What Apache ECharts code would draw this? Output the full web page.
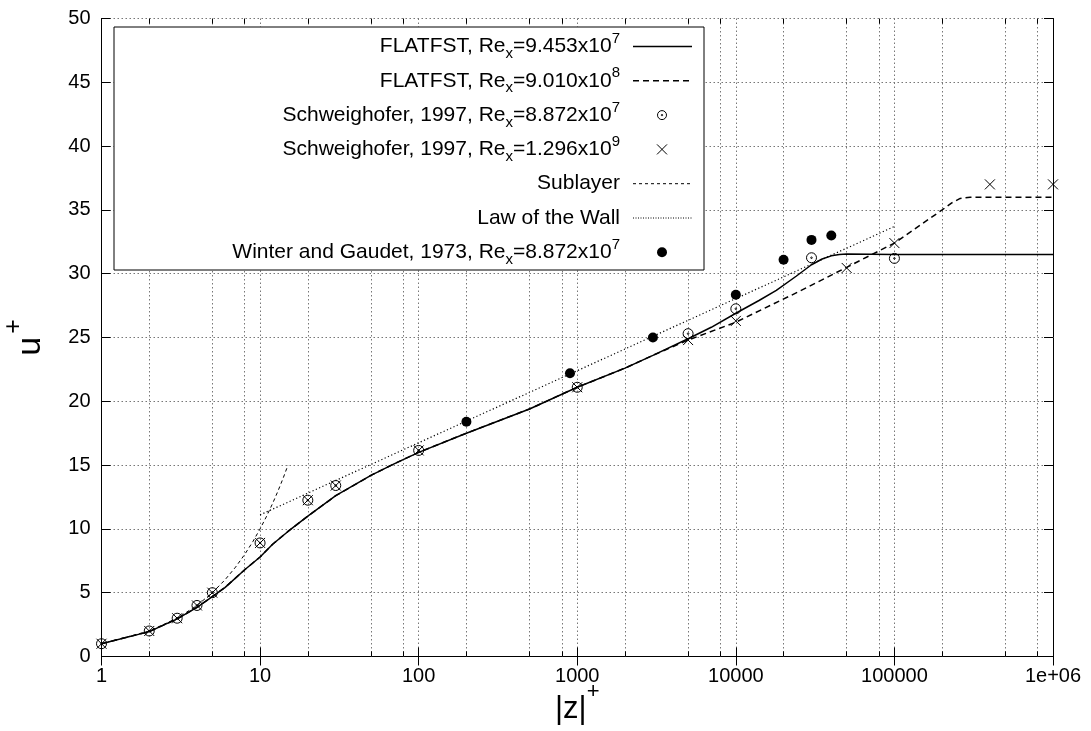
<!DOCTYPE html>
<html><head><meta charset="utf-8">
<script src="https://cdn.jsdelivr.net/npm/echarts@6/dist/echarts.min.js"></script>
<style>html,body{margin:0;padding:0;background:#fff}#c{width:1091px;height:731px}</style>
</head><body><div id="c"></div>
<script>
// FLATFST, Re_x = 9.453e7 (solid)
const flatA_z = [1, 2, 3, 4, 5, 6, 8, 10, 12, 15, 20, 30, 50, 70, 100, 200, 500, 1000, 2000, 3000, 5000, 7000, 10000, 14000, 18000, 24000, 30000, 35000, 40000, 45000, 50000, 100000, 1000000];
const flatA_u = [1.0, 1.95, 2.95, 3.85, 4.7, 5.4, 6.8, 7.8, 8.8, 9.8, 11.0, 12.6, 14.2, 15.1, 16.0, 17.5, 19.4, 21.1, 22.6, 23.6, 24.9, 25.8, 26.9, 27.9, 28.7, 29.8, 30.7, 31.15, 31.4, 31.5, 31.55, 31.5, 31.5];
// FLATFST, Re_x = 9.010e8 (dashed)
const flatB_z = [1, 2, 3, 4, 5, 6, 8, 10, 12, 15, 20, 30, 50, 70, 100, 200, 500, 1000, 2000, 3000, 5000, 10000, 25000, 50000, 100000, 200000, 230000, 260000, 300000, 1000000];
const flatB_u = [1.0, 1.95, 2.95, 3.85, 4.7, 5.4, 6.8, 7.8, 8.8, 9.8, 11.0, 12.6, 14.2, 15.1, 16.0, 17.5, 19.4, 21.1, 22.6, 23.6, 24.8, 26.2, 28.6, 30.5, 32.4, 35.0, 35.55, 35.9, 36.0, 36.0];
// Schweighofer 1997, Re_x = 8.872e7 (circles)
const schwA_z = [1, 2, 3, 4, 5, 10, 20, 30, 100, 1000, 5000, 10000, 30000, 100000];
const schwA_u = [1, 2, 3, 4, 5, 8.9, 12.25, 13.4, 16.15, 21.1, 25.3, 27.25, 31.25, 31.2];
// Schweighofer 1997, Re_x = 1.296e9 (crosses)
const schwB_z = [1, 2, 3, 4, 5, 10, 20, 30, 100, 1000, 5000, 10000, 50000, 100000, 400000, 1000000];
const schwB_u = [1, 2, 3, 4, 5, 8.9, 12.25, 13.4, 16.15, 21.1, 24.8, 26.3, 30.45, 32.4, 37.0, 37.0];
// Sublayer
const sub_z = [1, 2, 3, 4, 5, 6, 7, 8, 9, 10, 11, 12, 13, 14, 15];
const sub_u = [1, 2, 3, 4, 5, 6, 7, 8, 9, 10, 11, 12, 13, 14, 15];
// Law of the Wall
const law_z = [10, 100000];
const law_u = [11.1, 33.7];
// Winter and Gaudet 1973
const wg_z = [200, 900, 3000, 10000, 20000, 30000, 40000];
const wg_u = [18.4, 22.2, 25.0, 28.35, 31.1, 32.65, 33.0];
// minor tick positions on x
const minorTicks = [2, 5, 8, 20, 50, 80, 200, 500, 800, 2000, 5000, 8000, 20000, 50000, 80000, 200000, 500000, 800000];
// legend labels (rich text)
const legendLabels = [
  'FLATFST, Re{sb|x}=9.453x10{sp|7}',
  'FLATFST, Re{sb|x}=9.010x10{sp|8}',
  'Schweighofer, 1997, Re{sb|x}=8.872x10{sp|7}',
  'Schweighofer, 1997, Re{sb|x}=1.296x10{sp|9}',
  'Sublayer',
  'Law of the Wall',
  'Winter and Gaudet, 1973, Re{sb|x}=8.872x10{sp|7}'
];

const zip = (a, b) => a.map((v, i) => [v, b[i]]);
const FONT = 'Liberation Sans, Arial, Helvetica, sans-serif';
const circleDot = 'path://M10,1A9,9,0,1,1,10,19A9,9,0,1,1,10,1ZM10,8.6A1.4,1.4,0,1,1,10,11.4A1.4,1.4,0,1,1,10,8.6Z';
const cross = 'path://M0,0L10,10M10,0L0,10';
const gridLine = {color: '#777', width: 1, type: [1.5, 2.5]};

const chart = echarts.init(document.getElementById('c'), null, {renderer: 'canvas'});

const minorGridData = minorTicks.map(v => ({xAxis: v}));
const minorTickData = [];
minorTicks.forEach(v => {
  minorTickData.push([{coord: [v, 0]}, {coord: [v, 0.4]}]);
  minorTickData.push([{coord: [v, 50]}, {coord: [v, 49.6]}]);
});

// legend graphics
const LX = 114, LY = 27, LW = 590, LH = 243;
const rowY = i => 46.5 + 34.3 * i;
const textRight = 620, s1 = 633, s2 = 692, sc = 662;
const g = [];
g.push({type: 'rect', shape: {x: LX, y: LY, width: LW, height: LH}, style: {fill: '#fff', stroke: '#000', lineWidth: 1}, z: 100});
legendLabels.forEach((t, i) => {
  g.push({type: 'text', x: textRight, y: rowY(i), z: 101,
    style: {text: t, fill: '#000', font: '21px ' + FONT, fontSize: 21, fontFamily: FONT,
      align: 'right', verticalAlign: 'middle', textAlign: 'right', textVerticalAlign: 'middle', lineHeight: 30,
      rich: {
        sb: {fontSize: 15, fontFamily: FONT, lineHeight: 15, verticalAlign: 'bottom', fill: '#000'},
        sp: {fontSize: 15, fontFamily: FONT, lineHeight: 15, verticalAlign: 'top', fill: '#000'}
      }}});
});
g.push({type: 'line', z: 101, shape: {x1: s1, y1: rowY(0), x2: s2, y2: rowY(0)}, style: {stroke: '#000', lineWidth: 1.5}});
g.push({type: 'line', z: 101, shape: {x1: s1, y1: rowY(1), x2: s2, y2: rowY(1)}, style: {stroke: '#000', lineWidth: 1.5, lineDash: [6, 4]}});
g.push({type: 'circle', z: 101, shape: {cx: sc, cy: rowY(2), r: 4.5}, style: {fill: 'none', stroke: '#000', lineWidth: 1}});
g.push({type: 'circle', z: 101, shape: {cx: sc, cy: rowY(2), r: 0.8}, style: {fill: '#000', stroke: '#000', lineWidth: 0.5}});
g.push({type: 'line', z: 101, shape: {x1: sc - 5, y1: rowY(3) - 5, x2: sc + 5, y2: rowY(3) + 5}, style: {stroke: '#000', lineWidth: 1}});
g.push({type: 'line', z: 101, shape: {x1: sc - 5, y1: rowY(3) + 5, x2: sc + 5, y2: rowY(3) - 5}, style: {stroke: '#000', lineWidth: 1}});
g.push({type: 'line', z: 101, shape: {x1: s1, y1: rowY(4), x2: s2, y2: rowY(4)}, style: {stroke: '#000', lineWidth: 1, lineDash: [3, 3]}});
g.push({type: 'line', z: 101, shape: {x1: s1, y1: rowY(5), x2: s2, y2: rowY(5)}, style: {stroke: '#000', lineWidth: 1, lineDash: [1, 1.5]}});
g.push({type: 'circle', z: 101, shape: {cx: sc, cy: rowY(6), r: 5}, style: {fill: '#000', stroke: 'none'}});

const axisCommonX = {
  type: 'log', logBase: 10, min: 1, max: 1000000, splitNumber: 6,
  axisLine: {show: true, lineStyle: {color: '#000', width: 1}},
  axisTick: {show: true, inside: true, length: 9, lineStyle: {color: '#000', width: 1}},
  minorTick: {show: false}, minorSplitLine: {show: false}
};
const axisCommonY = {
  type: 'value', min: 0, max: 50, interval: 5,
  axisLine: {show: true, lineStyle: {color: '#000', width: 1}},
  axisTick: {show: true, inside: true, length: 9, lineStyle: {color: '#000', width: 1}}
};

const option = {
  animation: false,
  backgroundColor: '#fff',
  grid: {left: 101.5, right: 38, top: 18.5, bottom: 74.5, containLabel: false, outerBoundsMode: 'none'},
  xAxis: [
    Object.assign({}, axisCommonX, {
      position: 'bottom',
      splitLine: {show: true, lineStyle: gridLine},
      axisLabel: {show: true, showMinLabel: true, showMaxLabel: true, margin: 10, color: '#000', fontSize: 20, fontFamily: FONT,
        formatter: v => { const r = Math.round(v); return r >= 1000000 ? '1e+06' : String(r); }},
      name: '{a||z|}{s|+}', nameLocation: 'middle', nameGap: 24, nameMoveOverlap: false,
      nameTextStyle: {color: '#000', fontFamily: FONT, fontSize: 31,
        rich: {a: {fontSize: 31, fontFamily: FONT, lineHeight: 44, verticalAlign: 'bottom'},
               s: {fontSize: 22, fontFamily: FONT, lineHeight: 34, verticalAlign: 'top'}}}
    }),
    Object.assign({}, axisCommonX, {
      position: 'top', splitLine: {show: false}, axisLabel: {show: false}
    })
  ],
  yAxis: [
    Object.assign({}, axisCommonY, {
      position: 'left',
      splitLine: {show: true, lineStyle: gridLine},
      axisLabel: {show: true, margin: 11, color: '#000', fontSize: 20, fontFamily: FONT},
      name: '{a|u}{s|+}', nameLocation: 'middle', nameGap: 54, nameRotate: 90, nameMoveOverlap: false,
      nameTextStyle: {color: '#000', fontFamily: FONT, fontSize: 34,
        rich: {a: {fontSize: 34, fontFamily: FONT, lineHeight: 46, verticalAlign: 'bottom'},
               s: {fontSize: 25, fontFamily: FONT, lineHeight: 30, verticalAlign: 'top', padding: [0, 0, 0, 3]}}}
    }),
    Object.assign({}, axisCommonY, {
      position: 'right', splitLine: {show: false}, axisLabel: {show: false}
    })
  ],
  series: [
    {name: 'minorgrid', type: 'line', data: [], silent: true,
      markLine: {silent: true, symbol: 'none', label: {show: false}, animation: false,
        lineStyle: gridLine, emphasis: {disabled: true}, data: minorGridData}},
    {name: 'minorticks', type: 'line', data: [], silent: true,
      markLine: {silent: true, symbol: 'none', label: {show: false}, animation: false,
        lineStyle: {color: '#000', width: 1, type: 'solid'}, emphasis: {disabled: true}, data: minorTickData}},
    {name: 'FLATFST A', type: 'line', data: zip(flatA_z, flatA_u), showSymbol: false, symbol: 'none',
      smooth: false, lineStyle: {color: '#000', width: 1.5}, silent: true, z: 5},
    {name: 'FLATFST B', type: 'line', data: zip(flatB_z, flatB_u), showSymbol: false, symbol: 'none',
      smooth: false, lineStyle: {color: '#000', width: 1.5, type: [6, 4]}, silent: true, z: 5},
    {name: 'Sublayer', type: 'line', data: zip(sub_z, sub_u), showSymbol: false, symbol: 'none',
      smooth: false, lineStyle: {color: '#000', width: 1, type: [3.5, 3]}, silent: true, z: 4},
    {name: 'Law', type: 'line', data: zip(law_z, law_u), showSymbol: false, symbol: 'none',
      lineStyle: {color: '#000', width: 1.2, type: [1.2, 2.4]}, silent: true, z: 4},
    {name: 'Schw A', type: 'scatter', data: zip(schwA_z, schwA_u), symbol: circleDot, symbolSize: 10,
      itemStyle: {color: 'transparent', borderColor: '#000', borderWidth: 1, opacity: 1}, silent: true, z: 6},
    {name: 'Schw B', type: 'scatter', data: zip(schwB_z, schwB_u), symbol: cross, symbolSize: 10, clip: false,
      itemStyle: {color: 'transparent', borderColor: '#000', borderWidth: 1, opacity: 1}, silent: true, z: 6},
    {name: 'WG', type: 'scatter', data: zip(wg_z, wg_u), symbol: 'circle', symbolSize: 10,
      itemStyle: {color: '#000', opacity: 1}, silent: true, z: 6}
  ],
  graphic: g
};
chart.setOption(option);
</script>
</body></html>
